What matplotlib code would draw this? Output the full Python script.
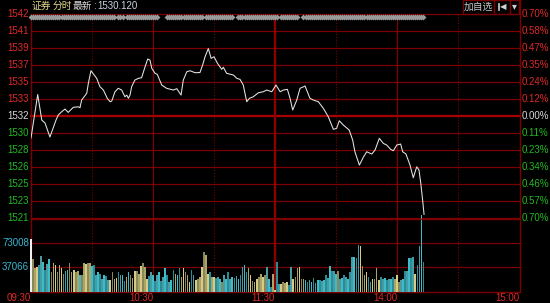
import matplotlib
matplotlib.use("Agg")
import matplotlib.pyplot as plt
import matplotlib.transforms as mtransforms
from matplotlib.lines import Line2D
from matplotlib.patches import Rectangle
import numpy as np

# ── layout in pixels (figure is 550 x 303) ─────────────────────────────────────
W, H = 550, 303
X0, X1 = 31, 519          # 09:30 .. 15:00
P_TOP, P_BOT = 14, 218    # price panel
V_TOP, V_BOT = 219, 292   # volume panel

GRID = "#7c0000"
GRID_HI = "#a80000"
RED = "#e02828"
GREEN = "#22b822"
CYAN = "#38b8d0"
NUM_FONT = ["Liberation Sans", "DejaVu Sans"]
CJK_FONT = ["Noto Sans CJK SC", "DejaVu Sans"]

# ── data ───────────────────────────────────────────────────────────────────────
PREV_CLOSE = 1532.0
RANGE_PCT = 0.007

PRICE_MIN = [0, 3.3, 5.3, 6.9, 9.3, 12.3, 13.4, 15.1, 16.7, 18.3, 20.8, 23.3, 24.1,
             24.9, 27.4, 28.2, 29.5, 32.3, 33.9, 35.6, 37.5, 38.9, 39.7, 41.3, 42.9,
             44.6, 46.2, 47.1, 47.9, 48.7, 49.5, 51.1, 52.8, 54.4, 56.1, 57.4, 58.5,
             59.4, 61.0, 62.1, 64.3, 66.7, 70.0, 71.7, 73.8, 74.9, 76.6, 78.2, 80.7,
             83.1, 84.4, 85.6, 87.2, 88.6, 90.0, 91.7, 93.8, 94.6, 96.2, 99.5, 101.2,
             102.8, 104.4, 106.1, 107.4, 109.3, 111.8, 114.2, 115.9, 118.4, 120.5,
             122.5, 124.1, 126.1, 127.4, 128.7, 130.7, 132.3, 134.8, 135.9, 137.2,
             138.8, 141.3, 143.8, 146.2, 148.7, 150.3, 151.6, 153.6, 156.5, 158.2,
             159.3, 161.5, 163.4, 165.1, 167.6, 169.2, 171.3, 173.3, 174.9, 176.9,
             178.2, 179.9, 181.8, 182.8, 184.4, 186.4, 188.0, 189.7, 190.8, 191.7,
             192.6, 193.3]
PRICE_VAL = [1529.68, 1534.26, 1531.57, 1531.26, 1529.79, 1531.57, 1532.10, 1532.45,
             1532.73, 1532.38, 1532.91, 1532.97, 1532.87, 1533.68, 1534.38, 1535.43,
             1536.76, 1535.96, 1535.08, 1534.73, 1533.86, 1533.50, 1533.57, 1534.55,
             1534.91, 1534.73, 1534.02, 1534.20, 1533.86, 1534.20, 1535.08, 1535.78,
             1535.96, 1536.02, 1537.18, 1537.99, 1537.88, 1537.01, 1536.49, 1536.38,
             1535.25, 1534.91, 1534.73, 1534.87, 1534.20, 1535.78, 1536.65, 1536.76,
             1536.55, 1536.57, 1537.36, 1538.23, 1539.09, 1538.06, 1538.23, 1537.54,
             1536.91, 1537.12, 1536.49, 1536.31, 1535.96, 1535.85, 1535.25, 1533.50,
             1533.86, 1534.02, 1534.44, 1534.55, 1534.73, 1534.55, 1535.25, 1534.55,
             1534.73, 1534.80, 1533.86, 1532.63, 1533.68, 1534.91, 1535.15, 1534.55,
             1533.86, 1533.68, 1533.50, 1532.80, 1531.92, 1530.60, 1530.70, 1531.50,
             1531.05, 1530.52, 1529.47, 1528.24, 1526.84, 1527.65, 1528.24, 1528.00,
             1528.42, 1529.65, 1529.12, 1528.95, 1528.49, 1528.35, 1528.95, 1529.05,
             1528.24, 1528.00, 1526.84, 1525.51, 1526.66, 1526.32, 1524.92, 1523.16,
             1521.66]

# one bar per minute, 09:30 -> 14:13
VOLUME = [
    79500, 49300, 35300, 37700, 40300, 53800, 45200, 32700, 41300, 49300,
    30200, 42800, 40300, 30200, 40300, 36200, 27700, 31200, 32700, 42800,
    29300, 32700, 29300, 31200, 26200, 26200, 43700, 41300, 43700, 42800,
    39200, 40300, 25200, 30200, 26700, 20200, 25200, 24100, 17600, 18700,
    30200, 20200, 21100, 29300, 25200, 26200, 16100, 22600, 29300, 25200,
    21700, 31200, 31200, 26700, 39200, 43700, 37700, 20200, 23700, 30200,
    26200, 16600,
    25200, 30200, 16100, 22600, 35300, 25200, 15100, 17600, 32700, 27700,
    25200, 35300, 22600, 35300, 30200, 25200, 15100, 32700, 26200, 17600,
    20200,
    22600, 37700, 59400, 55300, 27700, 30200, 22600, 22600, 21100, 22600,
    20200, 15100, 25200, 20200, 30200, 20200, 22600, 21100, 24100, 20200,
    26200, 37700, 40300, 30200, 35300, 25200, 16100, 15100, 20200, 22600,
    27700, 22600, 25200, 37700, 20200, 7500, 27700, 3600, 45200, 12700,
    12700, 15100, 14200, 15100, 10100, 37700, 19200, 22600, 35300, 37700,
    20200, 19200, 17600, 15100, 17600, 15100, 21100, 14200, 17600,
    17600, 16100, 17600, 25200, 21100, 39200, 31200, 31200, 27700, 31200,
    20200, 21100, 26200, 22600, 19200, 29300, 52800, 52800, 50400, 70400,
    69400, 39200, 25200, 30200, 22600, 15100, 20200, 19200, 36200, 17600,
    22600, 20200, 21100, 17600, 20200, 19200, 22600, 20200, 25200,
    15100, 17600, 19200, 31200, 31200, 50400, 50400, 52800, 27700, 40300,
    69400, 114800, 44300,
]

# minute direction runs: w = opening bar, u = up, d = down
DIRECTION_RUNS = [("w", 1), ("u", 3), ("d", 6), ("u", 7), ("d", 2), ("u", 5), ("d", 1),
                  ("u", 5), ("d", 9), ("u", 4), ("d", 4), ("u", 1), ("d", 1), ("u", 9),
                  ("d", 13), ("u", 1), ("d", 2), ("u", 5), ("d", 2), ("u", 7), ("d", 1),
                  ("u", 2), ("d", 3), ("u", 1), ("d", 12), ("u", 9), ("d", 3), ("u", 2),
                  ("d", 2), ("u", 4), ("d", 2), ("u", 6), ("d", 16), ("u", 1), ("d", 10),
                  ("u", 4), ("d", 2), ("u", 4), ("d", 7), ("u", 3), ("d", 7), ("u", 1),
                  ("d", 4)]

# minutes carrying the grey signal marks along the top line
SIGNAL_RANGES = [(0, 18), (19, 30), (31, 41), (43, 45), (47, 50), (51, 62), (67, 84),
                 (86, 89), (90, 92), (93, 99), (102, 114), (115, 117), (118, 121),
                 (123, 125), (126, 131), (134, 141), (142, 193)]

PRICE_LABELS = ["1542", "1541", "1539", "1537", "1535", "1533", "1532",
                "1530", "1528", "1526", "1525", "1523", "1521"]
PCT_LABELS = ["0.70%", "0.58%", "0.47%", "0.35%", "0.24%", "0.12%", "0.00%",
              "0.11%", "0.23%", "0.34%", "0.46%", "0.57%", "0.70%"]
VOL_TICKS = [37066, 73008]
TIME_LABELS = ["09:30", "10:30", "11:30", "14:00", "15:00"]
TIME_POS = [0, 60, 120, 180, 240]


def fx(px):
    return px / W


def fy(py):
    return 1 - py / H


def main():
    assert len(PRICE_MIN) == len(PRICE_VAL)
    fig = plt.figure(figsize=(W / 100, H / 100), dpi=100, facecolor="black")

    ax = fig.add_axes([fx(X0), fy(P_BOT), (X1 - X0) / W, (P_BOT - P_TOP) / H])
    axv = fig.add_axes([fx(X0), fy(V_BOT), (X1 - X0) / W, (V_BOT - V_TOP) / H])
    for a in (ax, axv):
        a.set_facecolor("black")
        a.set_xlim(0, 240)
        a.set_xticks([])
        a.set_yticks([])
        for s in a.spines.values():
            s.set_visible(False)

    lo, hi = PREV_CLOSE * (1 - RANGE_PCT), PREV_CLOSE * (1 + RANGE_PCT)
    ax.set_ylim(lo, hi)
    vmax = VOL_TICKS[1] * 1.5
    axv.set_ylim(0, vmax)

    # ── grid ──
    levels = np.linspace(hi, lo, 13)
    for i, lv in enumerate(levels):
        if i == 6:
            ax.axhline(lv, color=GRID_HI, lw=1.6, clip_on=False, zorder=1)
        else:
            ax.axhline(lv, color=GRID, lw=0.9, clip_on=False, zorder=1)
    for v in VOL_TICKS + [vmax]:
        axv.axhline(v, color=GRID, lw=0.9, clip_on=False, zorder=1)
    axv.axhline(0, color=GRID, lw=1.0, clip_on=False, zorder=1)

    for a in (ax, axv):
        for m in (30, 90, 150, 210):
            a.axvline(m, color=GRID, lw=0.8, ls=(0, (1, 1.5)), zorder=1)
        for m in (60, 180):
            a.axvline(m, color=GRID, lw=0.9, zorder=1)
        a.axvline(120, color="#8c0000", lw=1.7, zorder=1)
        a.axvline(0, color=GRID, lw=1.0, clip_on=False, zorder=1)

    # right border runs up into the header
    fig.add_artist(Line2D([fx(X1 + 0.5)] * 2, [fy(0), fy(V_BOT)], color=GRID, lw=1.0))
    fig.add_artist(Line2D([fx(X0), fx(X1)], [fy(V_TOP - 0.5)] * 2, color=GRID, lw=0.9))

    # ── price line ──
    ax.plot(PRICE_MIN, PRICE_VAL, color="#e6e6e6", lw=0.75, zorder=4)

    # ── signal marks on the top line ──
    sig = [m for a, b in SIGNAL_RANGES for m in range(a, b + 1)]
    trans_top = mtransforms.blended_transform_factory(ax.transData, ax.transAxes)
    ax.plot(sig, [1 - 2.6 / (P_BOT - P_TOP)] * len(sig), ls="none", marker="D",
            ms=3.0, mew=0, color="#9a9a9a", transform=trans_top, clip_on=False, zorder=5)

    # ── volume bars ──
    dirs = "".join(c * n for c, n in DIRECTION_RUNS)
    up_shades = ["#d4cc84", "#aaa468", "#8a8858"]
    dn_shades = ["#3cbccb", "#2a8c96", "#4a9aa4"]
    colors = []
    for i, d in enumerate(dirs):
        if d == "w":
            colors.append("#f0f0f0")
        elif d == "u":
            colors.append(up_shades[(i * 5) % 3])
        else:
            colors.append(dn_shades[(i * 7) % 3])
    axv.bar(range(len(VOLUME)), VOLUME, width=0.8, color=colors, linewidth=0,
            antialiased=False, clip_on=False, zorder=3)

    # ── labels ──
    tl = mtransforms.blended_transform_factory(ax.transAxes, ax.transData)
    for i, (lv, pl, pc) in enumerate(zip(levels, PRICE_LABELS, PCT_LABELS)):
        col = RED if i < 6 else ("#d8d8d8" if i == 6 else GREEN)
        ax.text(-2.0 / (X1 - X0), lv, pl, transform=tl, ha="right", va="center",
                fontsize=7, color=col, family=NUM_FONT)
        ax.text(1 + 2.5 / (X1 - X0), lv, pc, transform=tl, ha="left", va="center",
                fontsize=7, color=col, family=NUM_FONT)

    tv = mtransforms.blended_transform_factory(axv.transAxes, axv.transData)
    for v in VOL_TICKS:
        axv.text(-2.0 / (X1 - X0), v, str(v), transform=tv, ha="right", va="center",
                 fontsize=7, color=CYAN, family=NUM_FONT)

    tt = mtransforms.blended_transform_factory(axv.transData, axv.transAxes)
    for pos, lab in zip(TIME_POS, TIME_LABELS):
        axv.text(pos, -(5.8) / (V_BOT - V_TOP), lab, transform=tt, ha="right",
                 va="center", fontsize=7, color=RED, family=NUM_FONT)

    # ── header ──
    fig.text(fx(31), fy(6), "证券", fontsize=7, color="#e6dc8c",
             family=CJK_FONT, ha="left", va="center")
    fig.text(fx(53), fy(6), "分时", fontsize=7, color="#e6dc8c",
             family=CJK_FONT, ha="left", va="center")
    fig.text(fx(73), fy(6), "最新", fontsize=7, color="#d6d6d6",
             family=CJK_FONT, ha="left", va="center")
    fig.text(fx(93), fy(6), ":", fontsize=7, color="#d6d6d6",
             family=NUM_FONT, ha="left", va="center")
    fig.text(fx(97.5), fy(6), "1530.120", fontsize=7, color="#c8d6e2",
             family=NUM_FONT, ha="left", va="center")

    for x_a, x_b in ((463, 494), (494, 510), (510, 519)):
        fig.add_artist(Rectangle((fx(x_a), fy(13.5)), (x_b - x_a) / W, 13.5 / H,
                                 fill=False, edgecolor=GRID, lw=0.9))
    fig.text(fx(478.5), fy(6.5), "加自选", fontsize=7, color="#c8c8c8",
             family=CJK_FONT, ha="center", va="center")
    fig.add_artist(Line2D([fx(498.5)] * 2, [fy(3.5), fy(10)], color="#d0d0d0", lw=1.2))
    fig.text(fx(503.5), fy(6.8), "◀", fontsize=6, color="#d0d0d0",
             family=["DejaVu Sans"], ha="center", va="center")
    fig.text(fx(514.5), fy(6), "▾", fontsize=7, color="#d0d0d0",
             family=["DejaVu Sans"], ha="center", va="center")

    fig.savefig("out.png", dpi=100, facecolor="black")
    plt.close(fig)


if __name__ == "__main__":
    main()
